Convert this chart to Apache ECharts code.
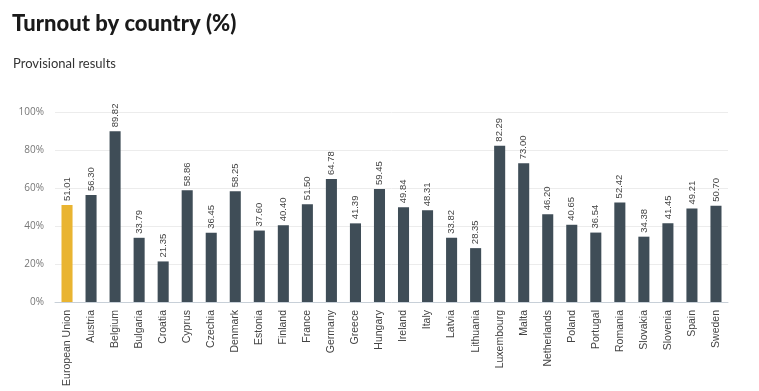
<!DOCTYPE html>
<html><head><meta charset="utf-8">
<script src="https://cdn.jsdelivr.net/npm/echarts@6/dist/echarts.min.js"></script>
<style>html,body{margin:0;padding:0;background:#fff}#c{width:759px;height:391px}</style>
</head><body><div id="c"></div>
<script>
const categories = ["European Union","Austria","Belgium","Bulgaria","Croatia","Cyprus","Czechia","Denmark","Estonia","Finland","France","Germany","Greece","Hungary","Ireland","Italy","Latvia","Lithuania","Luxembourg","Malta","Netherlands","Poland","Portugal","Romania","Slovakia","Slovenia","Spain","Sweden"];
const turnout = [51.01,56.30,89.82,33.79,21.35,58.86,36.45,58.25,37.60,40.40,51.50,64.78,41.39,59.45,49.84,48.31,33.82,28.35,82.29,73.00,46.20,40.65,36.54,52.42,34.38,41.45,49.21,50.70];
const yTicks = [0,20,40,60,80,100];
const chart = echarts.init(document.getElementById('c'));
chart.setOption({
  animation:false,
  title:[
    {text:'Turnout by country (%)',left:7,top:8,textStyle:{fontFamily:'Lato',fontSize:22,fontWeight:900,color:'#1a1a1a'}},
    {text:'Provisional results',left:8,top:52,textStyle:{fontFamily:'Lato',fontSize:13,fontWeight:'normal',color:'#333'}}
  ],
  grid:{left:55,right:31,top:112,bottom:89,containLabel:false},
  xAxis:{type:'category',data:categories,
    axisLine:{lineStyle:{color:'#c8d0d8'}},axisTick:{show:false},
    axisLabel:{rotate:90,interval:0,fontFamily:'Liberation Sans',fontSize:10.5,color:'#444',margin:8}},
  yAxis:{type:'value',min:0,max:100,interval:20,
    axisLabel:{formatter:v=>yTicks.includes(v)?v+'%':'',fontFamily:'Open Sans',fontSize:10,color:'#777',margin:11},
    splitLine:{lineStyle:{color:'#ececec'}},axisLine:{show:false},axisTick:{show:false}},
  series:[{type:'bar',barWidth:'46%',
    data:turnout.map((v,i)=>({value:v,itemStyle:{color:i===0?'#E9B431':'#3F4D57'}})),
    label:{show:true,position:'top',rotate:90,align:'left',verticalAlign:'middle',distance:4,
      formatter:p=>p.value.toFixed(2),fontFamily:'Liberation Sans',fontSize:9.5,color:'#444'}}]
});
</script></body></html>
